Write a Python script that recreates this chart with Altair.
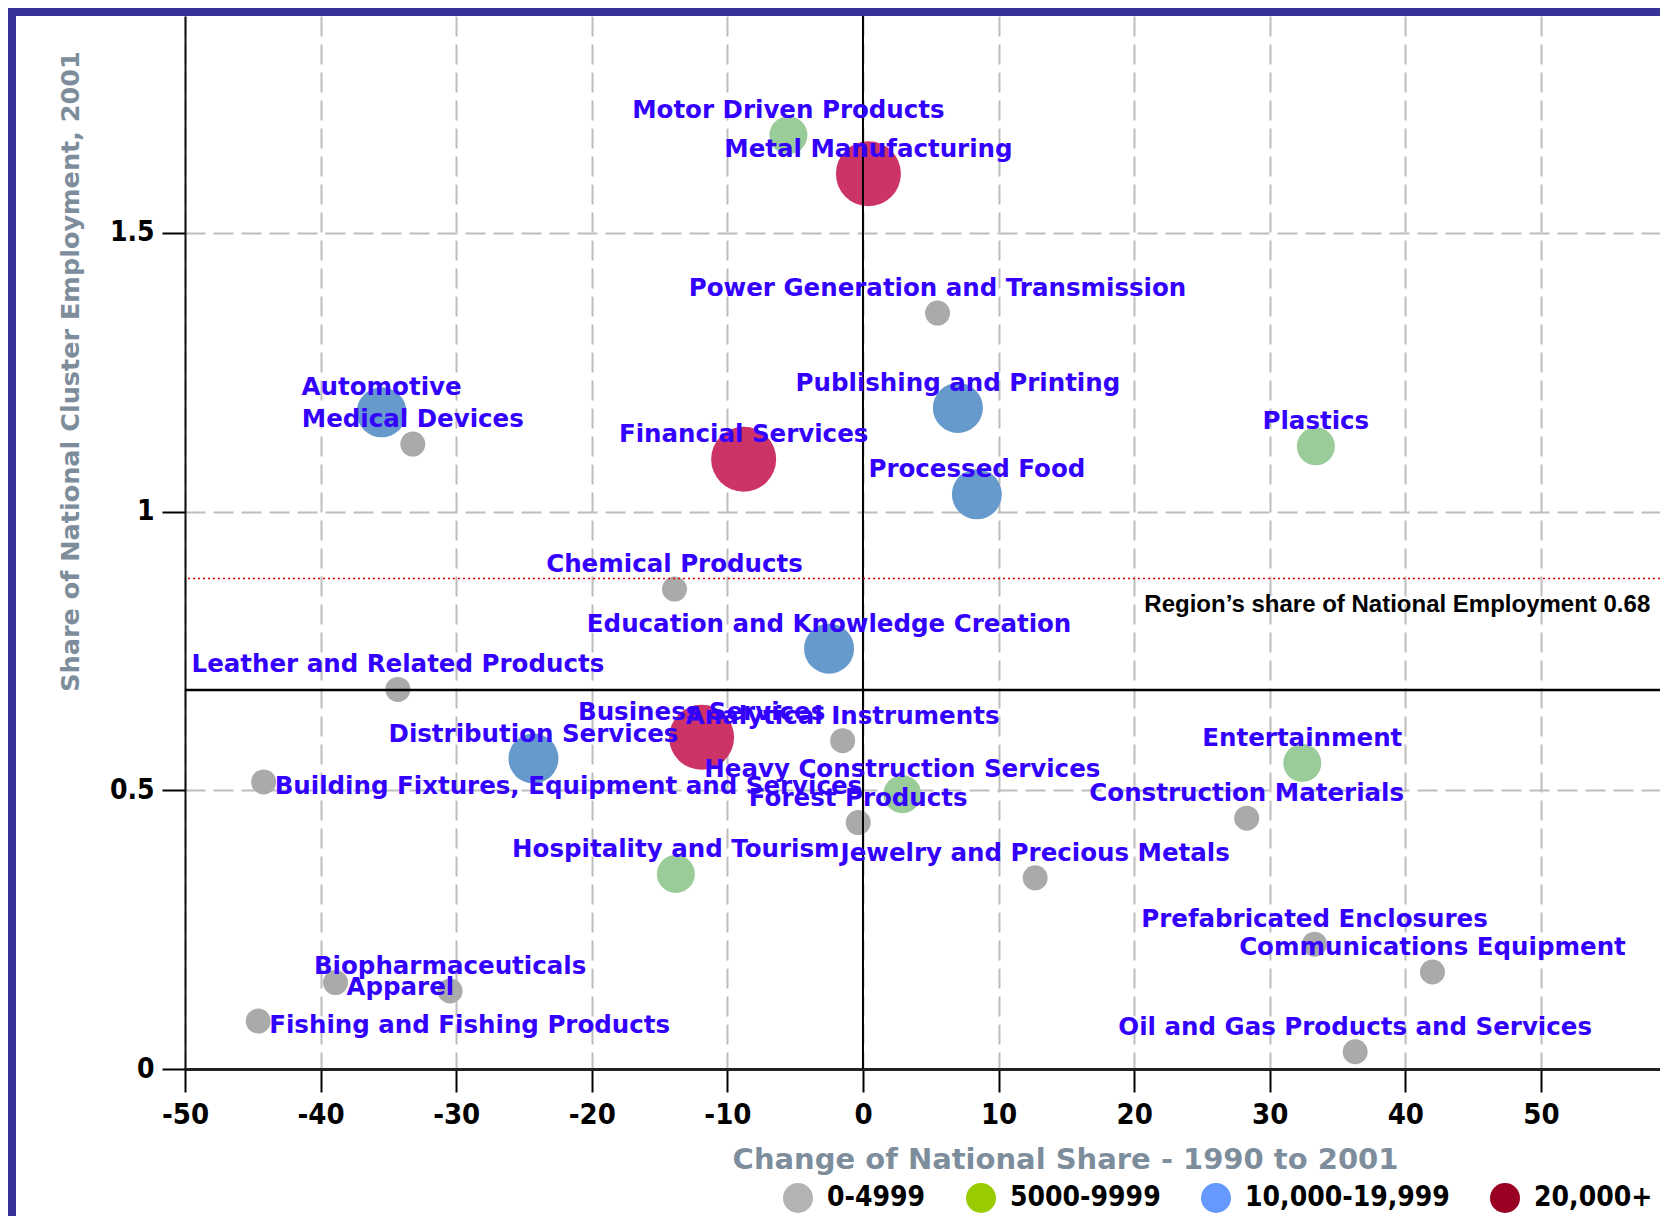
import altair as alt
import pandas as pd

# ---------------- data ----------------
clusters = [
    "Motor Driven Products", "Metal Manufacturing", "Power Generation and Transmission",
    "Automotive", "Medical Devices", "Publishing and Printing", "Financial Services",
    "Plastics", "Processed Food", "Chemical Products", "Education and Knowledge Creation",
    "Leather and Related Products", "Business Services", "Analytical Instruments",
    "Distribution Services", "Entertainment", "Building Fixtures, Equipment and Services",
    "Heavy Construction Services", "Forest Products", "Construction Materials",
    "Hospitality and Tourism", "Jewelry and Precious Metals", "Prefabricated Enclosures",
    "Communications Equipment", "Biopharmaceuticals", "Apparel",
    "Fishing and Fishing Products", "Oil and Gas Products and Services",
]
change_share = [
    -5.5, 0.4, 5.5,
    -35.5, -33.2, 7.0, -8.8,
    33.4, 8.4, -13.9, -2.5,
    -34.3, -11.9, -1.5,
    -24.3, 32.4, -44.2,
    2.9, -0.35, 28.3,
    -13.8, 12.7, 33.3,
    42.0, -30.45, -38.9,
    -44.6, 36.3,
]
national_share = [
    1.675, 1.606, 1.356,
    1.178, 1.121, 1.186, 1.094,
    1.117, 1.031, 0.861, 0.754,
    0.681, 0.595, 0.589,
    0.557, 0.549, 0.515,
    0.493, 0.442, 0.450,
    0.350, 0.343, 0.224,
    0.174, 0.140, 0.155,
    0.086, 0.031,
]
employment_class = [
    "5000-9999", "20,000+", "0-4999",
    "10,000-19,999", "0-4999", "10,000-19,999", "20,000+",
    "5000-9999", "10,000-19,999", "0-4999", "10,000-19,999",
    "0-4999", "20,000+", "0-4999",
    "10,000-19,999", "5000-9999", "0-4999",
    "5000-9999", "0-4999", "0-4999",
    "5000-9999", "0-4999", "0-4999",
    "0-4999", "0-4999", "0-4999",
    "0-4999", "0-4999",
]
labels_to_right = ["Building Fixtures, Equipment and Services", "Apparel",
                   "Fishing and Fishing Products"]

class_order = ["0-4999", "5000-9999", "10,000-19,999", "20,000+"]
bubble_colors = ["#aaaaaa", "#99cc99", "#6699cc", "#cc3366"]
legend_colors = ["#b3b3b3", "#99cc00", "#6699ff", "#990022"]
bubble_sizes = [625, 1444, 2500, 4225]

x_ticks = [-50, -40, -30, -20, -10, 0, 10, 20, 30, 40, 50]
y_ticks = [0, 0.5, 1, 1.5]
x_domain = [-50, 58.78]
y_domain = [0, 1.889]

quadrant_x = [0]
quadrant_y = [0.68]
region_line_y = [0.88]
annotation_text = ["Region\u2019s share of National Employment 0.68"]
annotation_x = [20.75]
annotation_y = [0.82]

# ---------------- layout ----------------
W, H = 1475, 1053
PAD = {"left": 177, "top": 8, "right": 0, "bottom": 147}
purple = "#35339a"
label_blue = "#3300ff"
title_gray = "#7d8d9c"

df = pd.DataFrame({
    "cluster": clusters,
    "change": change_share,
    "share": national_share,
    "emp": employment_class,
})
df["place"] = ["right" if c in labels_to_right else "above" for c in clusters]

xs = alt.Scale(domain=x_domain, nice=False, zero=False)
ys = alt.Scale(domain=y_domain, nice=False, zero=False)

x_axis = alt.Axis(
    values=x_ticks, labelExpr="'' + datum.value", labelFlush=False,
    title="Change of National Share - 1990 to 2001",
    titleFont="DejaVu Sans", titleFontSize=29, titleFontWeight="bold", titleColor=title_gray,
    titleX=880, titleY=99, titleAlign="center", titleBaseline="alphabetic",
    labelFont="DejaVu Sans Condensed", labelFontSize=29, labelFontWeight="bold",
    labelColor="black", labelPadding=8,
    tickSize=23, tickWidth=2, tickColor="black",
    domainColor="#222222", domainWidth=3,
    grid=True, gridColor="#bdbdbd", gridWidth=2, gridDash=[20, 8],
)
y_axis = alt.Axis(
    values=y_ticks, labelExpr="'' + datum.value", labelFlush=False,
    title="Share of National Cluster Employment, 2001",
    titleFont="DejaVu Sans", titleFontSize=25.5, titleFontWeight="bold", titleColor=title_gray,
    titleX=-107, titleY=355, titleAngle=270, titleAlign="center", titleBaseline="alphabetic",
    labelFont="DejaVu Sans Condensed", labelFontSize=28, labelFontWeight="bold",
    labelColor="black", labelPadding=8,
    tickSize=23, tickWidth=2, tickColor="black",
    domainColor="#111111", domainWidth=2,
    grid=True, gridColor="#bdbdbd", gridWidth=2, gridDash=[20, 8],
)

base = alt.Chart(df)

bubbles = base.mark_circle(opacity=1).encode(
    x=alt.X("change:Q", scale=xs, axis=x_axis),
    y=alt.Y("share:Q", scale=ys, axis=y_axis),
    fill=alt.Fill("emp:N", scale=alt.Scale(domain=class_order, range=bubble_colors), legend=None),
    size=alt.Size("emp:N", scale=alt.Scale(type="ordinal", domain=class_order, range=bubble_sizes),
                  legend=None),
)

vline = alt.Chart(pd.DataFrame({"qx": quadrant_x})).mark_rule(
    color="black", strokeWidth=2).encode(x=alt.X("qx:Q", scale=xs))
hline = alt.Chart(pd.DataFrame({"qy": quadrant_y})).mark_rule(
    color="black", strokeWidth=2.5).encode(y=alt.Y("qy:Q", scale=ys))
redline = alt.Chart(pd.DataFrame({"ry": region_line_y})).mark_rule(
    color="#dd0000", strokeWidth=1.5, strokeDash=[2, 3]).encode(y=alt.Y("ry:Q", scale=ys))

text_common = dict(font="DejaVu Sans", fontSize=24.5, fontWeight="bold", color=label_blue)
labels_above = base.transform_filter(alt.datum.place == "above").mark_text(
    align="center", baseline="middle", dy=-24, **text_common
).encode(x=alt.X("change:Q", scale=xs), y=alt.Y("share:Q", scale=ys), text="cluster:N")
labels_right = base.transform_filter(alt.datum.place == "right").mark_text(
    align="left", baseline="middle", dx=11, dy=5, **text_common
).encode(x=alt.X("change:Q", scale=xs), y=alt.Y("share:Q", scale=ys), text="cluster:N")

annotation = alt.Chart(pd.DataFrame({
    "t": annotation_text, "ax": annotation_x, "ay": annotation_y,
})).mark_text(
    align="left", baseline="alphabetic", font="Liberation Sans", fontSize=24,
    fontWeight="bold", color="black",
).encode(x=alt.X("ax:Q", scale=xs), y=alt.Y("ay:Q", scale=ys), text="t:N")

legend_layer = alt.Chart(pd.DataFrame({"employment_band": class_order})).transform_filter(
    "false"
).mark_circle(opacity=1).encode(
    color=alt.Color(
        "employment_band:N",
        scale=alt.Scale(domain=class_order, range=legend_colors),
        legend=alt.Legend(
            title=None, orient="none", direction="horizontal", columns=4,
            legendX=598, legendY=1167, padding=0,
            symbolType="circle", symbolSize=900, symbolStrokeWidth=0, symbolOpacity=1,
            labelFont="DejaVu Sans Condensed", labelFontSize=28,
            labelFontWeight="bold", labelColor="black", labelLimit=400,
            labelOffset=14, columnPadding=40,
        ),
    )
)

dummy = pd.DataFrame({"k": [0]})
border_top = alt.Chart(dummy).mark_rule(color=purple, strokeWidth=8).encode(
    x=alt.value(-PAD["left"]), x2=alt.value(W), y=alt.value(-4))
border_left = alt.Chart(dummy).mark_rule(color=purple, strokeWidth=8).encode(
    x=alt.value(-PAD["left"] + 4), y=alt.value(-PAD["top"]), y2=alt.value(H + PAD["bottom"]))

chart = alt.layer(
    bubbles, vline, hline, redline, labels_above, labels_right, annotation,
    legend_layer, border_top, border_left,
).properties(
    width=W, height=H,
    autosize=alt.AutoSizeParams(type="none"),
    padding=PAD,
    background="white",
).resolve_legend(color="independent", fill="independent").configure_view(strokeWidth=0)

chart.save("out.html", embed_options={"renderer": "svg", "actions": False})
